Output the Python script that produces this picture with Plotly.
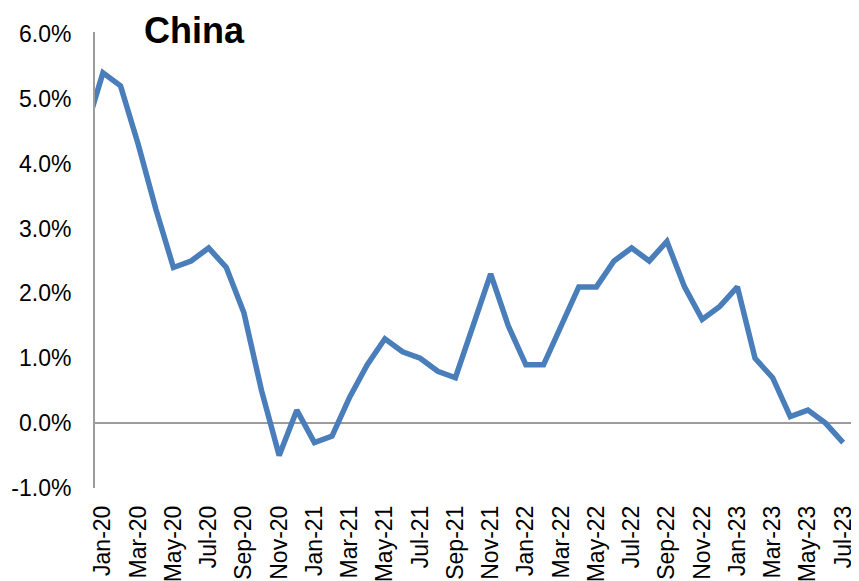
import plotly.graph_objects as go

months = ["Dec-19",
          "Jan-20", "Feb-20", "Mar-20", "Apr-20", "May-20", "Jun-20", "Jul-20", "Aug-20", "Sep-20", "Oct-20", "Nov-20", "Dec-20",
          "Jan-21", "Feb-21", "Mar-21", "Apr-21", "May-21", "Jun-21", "Jul-21", "Aug-21", "Sep-21", "Oct-21", "Nov-21", "Dec-21",
          "Jan-22", "Feb-22", "Mar-22", "Apr-22", "May-22", "Jun-22", "Jul-22", "Aug-22", "Sep-22", "Oct-22", "Nov-22", "Dec-22",
          "Jan-23", "Feb-23", "Mar-23", "Apr-23", "May-23", "Jun-23", "Jul-23"]
cpi = [4.5,
       5.4, 5.2, 4.3, 3.3, 2.4, 2.5, 2.7, 2.4, 1.7, 0.5, -0.5, 0.2,
       -0.3, -0.2, 0.4, 0.9, 1.3, 1.1, 1.0, 0.8, 0.7, 1.5, 2.3, 1.5,
       0.9, 0.9, 1.5, 2.1, 2.1, 2.5, 2.7, 2.5, 2.8, 2.1, 1.6, 1.8,
       2.1, 1.0, 0.7, 0.1, 0.2, 0.0, -0.3]
tick_labels = months[1::2]
y_ticks = [-1, 0, 1, 2, 3, 4, 5, 6]
y_tick_text = ["-1.0%", "0.0%", "1.0%", "2.0%", "3.0%", "4.0%", "5.0%", "6.0%"]
title_text = "China"

fig = go.Figure()
fig.add_trace(go.Scatter(
    x=months, y=cpi, mode="lines",
    line=dict(color="#4a7ebb", width=5.5),
    showlegend=False, hoverinfo="skip",
))

# page body has an 8px margin, so the figure is sized/offset to compensate
fig.update_layout(
    width=851, height=573,
    margin=dict(l=87, r=0, t=24, b=93, autoexpand=False),
    paper_bgcolor="white", plot_bgcolor="white",
    font=dict(family="Liberation Sans, Arial, sans-serif", size=23, color="black"),
    xaxis=dict(
        type="category",
        range=[0.55, 43.9],
        tickmode="array", tickvals=tick_labels, ticktext=tick_labels,
        tickangle=-90, automargin=False,
        showgrid=False, zeroline=False, showline=False,
        ticks="", ticklabelstandoff=12,
        tickfont=dict(size=23),
    ),
    yaxis=dict(
        range=[-1, 6.03], automargin=False,
        tickmode="array", tickvals=y_ticks, ticktext=y_tick_text,
        showgrid=False,
        zeroline=True, zerolinecolor="#9c9c9c", zerolinewidth=2,
        showline=True, linecolor="#9c9c9c", linewidth=2,
        ticks="", ticklabelstandoff=17,
        tickfont=dict(size=23),
    ),
    annotations=[dict(
        text="<b>" + title_text + "</b>",
        xref="paper", yref="paper",
        x=0.0615, y=1.004, xanchor="left", yanchor="middle",
        showarrow=False,
        font=dict(family="Liberation Sans, Arial, sans-serif", size=36, color="black"),
    )],
)

fig.write_html("out.html")
